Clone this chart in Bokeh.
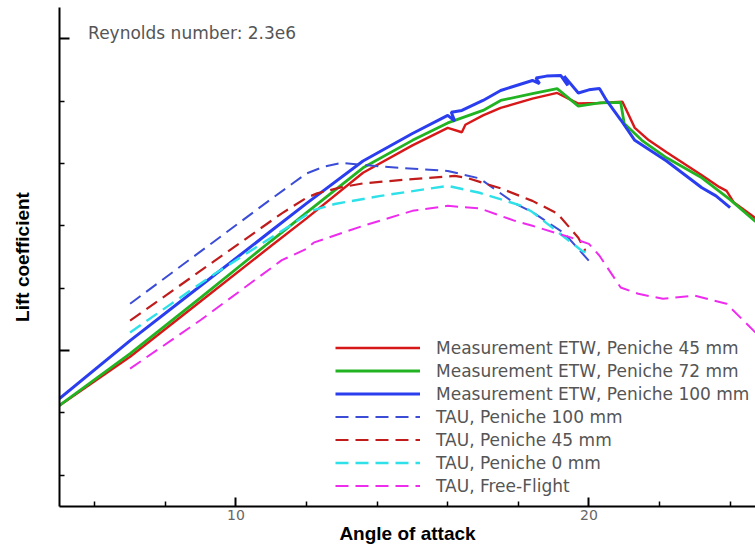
from bokeh.plotting import figure
from bokeh.models import Range1d, FixedTicker, Legend, LegendItem, Label
from bokeh.embed import file_html
from bokeh.resources import INLINE

# ---- data (angle of attack in degrees, lift coefficient in arbitrary scale) ----
meas45_alpha = [5.0, 7.0, 9.0, 11.0, 12.0, 13.6, 15.0, 16.0, 16.4, 16.5, 17.0, 17.5, 18.4, 19.1,
                19.7, 20.3, 20.95, 21.3, 21.7, 22.2, 23.2, 23.7, 23.9, 24.1, 24.7, 25.0]
meas45_cl = [0.912, 0.990, 1.079, 1.168, 1.212, 1.285, 1.329, 1.357, 1.350, 1.362, 1.377, 1.389, 1.404, 1.413,
             1.396, 1.397, 1.399, 1.357, 1.337, 1.318, 1.281, 1.262, 1.256, 1.238, 1.213, 1.205]

meas72_alpha = [5.0, 7.0, 9.0, 11.0, 12.0, 13.6, 15.0, 16.0, 17.0, 17.5, 18.4, 19.1, 19.7, 20.3, 20.9,
                21.0, 21.5, 22.2, 23.2, 24.0, 24.7, 25.0]
meas72_cl = [0.912, 0.995, 1.085, 1.176, 1.221, 1.293, 1.337, 1.365, 1.385, 1.401, 1.412, 1.420, 1.392, 1.397, 1.398,
             1.364, 1.337, 1.309, 1.277, 1.242, 1.208, 1.195]

meas100_alpha = [5.0, 7.0, 9.0, 11.0, 12.0, 13.6, 15.0, 16.0, 16.2, 16.1, 16.4, 17.0, 17.5, 18.4, 18.6, 18.5,
                 18.8, 19.2, 19.4, 19.3, 19.7, 20.0, 20.3, 20.5, 20.9, 21.3, 22.2, 23.2, 23.6, 24.0]
meas100_cl = [0.923, 1.016, 1.104, 1.192, 1.236, 1.304, 1.348, 1.377, 1.368, 1.382, 1.385, 1.401, 1.417, 1.433, 1.428, 1.437,
              1.440, 1.441, 1.425, 1.440, 1.413, 1.418, 1.420, 1.401, 1.370, 1.337, 1.304, 1.261, 1.248, 1.229]

tau100_alpha = [7.0, 9.0, 11.0, 12.0, 12.5, 13.0, 14.1, 16.0, 16.9, 17.9, 18.4, 19.3, 20.0]
tau100_cl = [1.075, 1.159, 1.243, 1.284, 1.295, 1.301, 1.295, 1.288, 1.276, 1.236, 1.222, 1.188, 1.144]

tau45_alpha = [7.0, 9.0, 11.3, 12.0, 12.3, 13.0, 13.6, 15.0, 16.2, 16.6, 17.5, 18.4, 19.1, 19.7, 19.9]
tau45_cl = [1.048, 1.128, 1.220, 1.245, 1.252, 1.262, 1.268, 1.275, 1.280, 1.276, 1.260, 1.240, 1.220, 1.181, 1.160]

tau0_alpha = [7.0, 8.7, 9.4, 10.5, 11.5, 12.2, 12.8, 14.1, 16.0, 16.9, 18.1, 18.4, 19.8, 20.0]
tau0_cl = [1.029, 1.096, 1.123, 1.163, 1.199, 1.225, 1.235, 1.248, 1.264, 1.253, 1.232, 1.222, 1.160, 1.155]

free_alpha = [7.0, 9.0, 11.3, 12.0, 12.2, 13.6, 15.0, 16.0, 16.9, 17.9, 18.4, 19.5, 20.0, 20.3, 20.9, 21.4,
              22.1, 23.0, 23.9, 24.7, 25.2]
free_cl = [0.971, 1.049, 1.145, 1.163, 1.173, 1.200, 1.224, 1.232, 1.228, 1.208, 1.200, 1.181, 1.171, 1.152, 1.101, 1.091,
           1.083, 1.088, 1.075, 1.030, 1.000]

x_major = [10, 20]
x_minor = [6, 8, 12, 14, 16, 18, 22, 24]
y_major = [1.0, 1.5]
y_minor = [0.8, 0.9, 1.1, 1.2, 1.3, 1.4]

labels = ["Measurement ETW, Peniche 45 mm", "Measurement ETW, Peniche 72 mm",
          "Measurement ETW, Peniche 100 mm", "TAU, Peniche 100 mm", "TAU, Peniche 45 mm",
          "TAU, Peniche 0 mm", "TAU, Free-Flight"]

p = figure(width=755, height=546, output_backend="svg", toolbar_location=None,
           x_range=Range1d(5, 24.72), y_range=Range1d(0.75, 1.55),
           min_border_left=59, min_border_right=0, min_border_top=7, min_border_bottom=40)
p.outline_line_color = None
p.xgrid.visible = False
p.ygrid.visible = False
p.background_fill_color = "white"
p.border_fill_color = "white"

dash = "13 7"
r_m45 = p.line(meas45_alpha, meas45_cl, line_color="#d81818", line_width=2.4)
r_m72 = p.line(meas72_alpha, meas72_cl, line_color="#22b322", line_width=2.8)
r_m100 = p.line(meas100_alpha, meas100_cl, line_color="#2a3ef0", line_width=3)
r_t100 = p.line(tau100_alpha, tau100_cl, line_color="#3b4cd6", line_width=2, line_dash=dash)
r_t45 = p.line(tau45_alpha, tau45_cl, line_color="#c01c1c", line_width=2.2, line_dash=dash)
r_t0 = p.line(tau0_alpha, tau0_cl, line_color="#2ee0e8", line_width=2.4, line_dash=dash)
r_ff = p.line(free_alpha, free_cl, line_color="#ee2cee", line_width=2, line_dash=dash)

# axes
xa = p.xaxis[0]
xa.ticker = FixedTicker(ticks=x_major, minor_ticks=x_minor)
xa.major_tick_in = 9
xa.major_tick_out = 0
xa.minor_tick_in = 5
xa.minor_tick_out = 0
xa.axis_line_width = 2
xa.major_tick_line_width = 2
xa.minor_tick_line_width = 1.5
xa.major_label_text_font = "DejaVu Sans"
xa.major_label_text_font_size = "14px"
xa.major_label_text_color = "#666666"
xa.major_label_standoff = 3
xa.axis_label = "Angle of attack"
xa.axis_label_text_font = "Liberation Sans"
xa.axis_label_text_font_style = "bold"
xa.axis_label_text_font_size = "19px"
xa.axis_label_text_color = "black"
xa.axis_label_standoff = 0

ya = p.yaxis[0]
ya.ticker = FixedTicker(ticks=y_major, minor_ticks=y_minor)
ya.major_tick_in = 10
ya.major_tick_out = 0
ya.minor_tick_in = 5
ya.minor_tick_out = 0
ya.axis_line_width = 2
ya.major_tick_line_width = 2
ya.minor_tick_line_width = 1.5
ya.major_label_overrides = {1.0: "", 1.5: ""}
ya.major_label_text_font_size = "1px"
ya.major_label_standoff = 0
ya.axis_label = "Lift coefficient"
ya.axis_label_text_font = "Liberation Sans"
ya.axis_label_text_font_style = "bold"
ya.axis_label_text_font_size = "19px"
ya.axis_label_text_color = "black"
ya.axis_label_standoff = 27

legend = Legend(items=[LegendItem(label=labels[0], renderers=[r_m45]),
                       LegendItem(label=labels[1], renderers=[r_m72]),
                       LegendItem(label=labels[2], renderers=[r_m100]),
                       LegendItem(label=labels[3], renderers=[r_t100]),
                       LegendItem(label=labels[4], renderers=[r_t45]),
                       LegendItem(label=labels[5], renderers=[r_t0]),
                       LegendItem(label=labels[6], renderers=[r_ff])],
                location=(276, 10), border_line_color=None, background_fill_alpha=0,
                padding=0, margin=0, spacing=2, glyph_width=85, glyph_height=21,
                label_height=21, label_standoff=16, label_text_font="DejaVu Sans",
                label_text_font_size="17px", label_text_color="#555555")
p.add_layout(legend)

p.add_layout(Label(x=5.81, y=1.5096, text="Reynolds number: 2.3e6", text_baseline="middle",
                   text_font="DejaVu Sans", text_font_size="17px", text_color="#555555"))

open("out.html", "w").write(file_html(p, INLINE))
